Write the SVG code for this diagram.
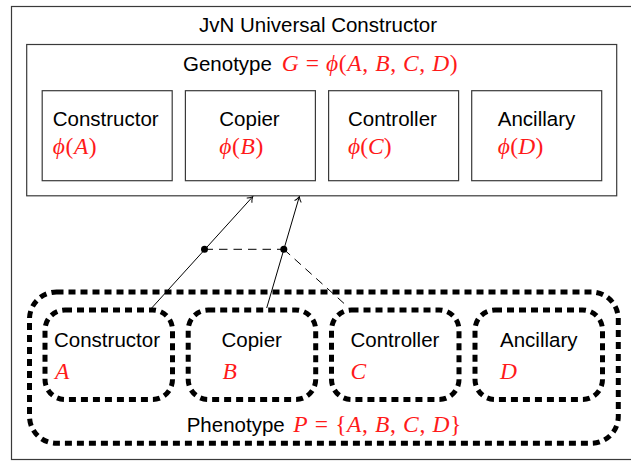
<svg xmlns="http://www.w3.org/2000/svg" width="631" height="461" viewBox="0 0 631 461">
  <style>
    .box { fill: none; stroke: #3a3a3a; stroke-width: 1.2; }
    .dot-box { fill: none; stroke: #000; stroke-width: 5; stroke-dasharray: 7 5; }
    .lbl { font-family: "Liberation Sans", Arial, sans-serif; font-size: 20.5px; fill: #000; }
    .math { font-family: "Liberation Serif", "DejaVu Serif", serif; font-size: 23.5px; fill: #ff1a1a; }
    .it { font-style: italic; }
    .conn { fill: none; stroke: #000; stroke-width: 1; }
    .dash { stroke-dasharray: 8.5 6; }
  </style>
  <defs>
    <marker id="arrow" markerUnits="userSpaceOnUse" markerWidth="12" markerHeight="12" viewBox="-8 -6 10 12" refX="0" refY="0" orient="auto">
      <path d="M-5,-3.5 C-3.5,-1.5 -1,-0.5 0,0 C-1,0.5 -3.5,1.5 -5,3.5" fill="none" stroke="#000" stroke-width="1"/>
    </marker>
  </defs>
  <rect width="631" height="461" fill="#fff"/>

  <g id="universal-constructor">
    <rect class="box" x="11.5" y="6.5" width="640" height="453"/>
    <text class="lbl" x="199" y="32">JvN Universal Constructor</text>
  </g>

  <g id="genotype">
    <rect class="box" x="26.7" y="44.5" width="590" height="151.3"/>
    <text class="lbl" x="183" y="71">Genotype</text>
    <text class="math" x="281.7" y="71" textLength="176" lengthAdjust="spacing"><tspan class="it">G</tspan> = <tspan class="it">ϕ</tspan>(<tspan class="it">A</tspan>, <tspan class="it">B</tspan>, <tspan class="it">C</tspan>, <tspan class="it">D</tspan>)</text>
  </g>

  <g id="g-constructor">
    <rect class="box" x="42.2" y="90.7" width="130" height="90"/>
    <text class="lbl" x="52.7" y="126">Constructor</text>
    <text class="math" x="52.7" y="154" textLength="44" lengthAdjust="spacing"><tspan class="it">ϕ</tspan>(<tspan class="it">A</tspan>)</text>
  </g>
  <g id="g-copier">
    <rect class="box" x="185.4" y="90.7" width="130" height="90"/>
    <text class="lbl" x="219.3" y="126">Copier</text>
    <text class="math" x="219.3" y="154" textLength="44" lengthAdjust="spacing"><tspan class="it">ϕ</tspan>(<tspan class="it">B</tspan>)</text>
  </g>
  <g id="g-controller">
    <rect class="box" x="328.6" y="90.7" width="130" height="90"/>
    <text class="lbl" x="348" y="126">Controller</text>
    <text class="math" x="348" y="154" textLength="43.5" lengthAdjust="spacing"><tspan class="it">ϕ</tspan>(<tspan class="it">C</tspan>)</text>
  </g>
  <g id="g-ancillary">
    <rect class="box" x="471.7" y="90.7" width="130" height="90"/>
    <text class="lbl" x="497.8" y="126">Ancillary</text>
    <text class="math" x="497.8" y="154" textLength="45.5" lengthAdjust="spacing"><tspan class="it">ϕ</tspan>(<tspan class="it">D</tspan>)</text>
  </g>

  <g id="phenotype">
    <rect class="dot-box" x="29.5" y="292" width="588.8" height="151.3" rx="27" ry="27"/>
    <text class="lbl" x="186.7" y="431.7">Phenotype</text>
    <text class="math" x="293.3" y="431.7" textLength="168" lengthAdjust="spacing"><tspan class="it">P</tspan> = {<tspan class="it">A</tspan>, <tspan class="it">B</tspan>, <tspan class="it">C</tspan>, <tspan class="it">D</tspan>}</text>
  </g>

  <g id="p-constructor">
    <rect class="dot-box" x="45" y="310" width="127.5" height="89.5" rx="20" ry="20"/>
    <text class="lbl" x="54" y="347">Constructor</text>
    <text class="math it" x="55" y="378.5">A</text>
  </g>
  <g id="p-copier">
    <rect class="dot-box" x="188.2" y="310" width="127.5" height="89.5" rx="20" ry="20"/>
    <text class="lbl" x="221.5" y="347">Copier</text>
    <text class="math it" x="222.5" y="378.5">B</text>
  </g>
  <g id="p-controller">
    <rect class="dot-box" x="331.5" y="310" width="127.5" height="89.5" rx="20" ry="20"/>
    <text class="lbl" x="350.5" y="347">Controller</text>
    <text class="math it" x="350.5" y="378.5">C</text>
  </g>
  <g id="p-ancillary">
    <rect class="dot-box" x="475" y="310" width="127.5" height="89.5" rx="20" ry="20"/>
    <text class="lbl" x="500" y="347">Ancillary</text>
    <text class="math it" x="500" y="378.5">D</text>
  </g>

  <g id="connectors">
    <line class="conn" x1="151.7" y1="308" x2="252.7" y2="196.7" marker-end="url(#arrow)"/>
    <line class="conn" x1="266.7" y1="308" x2="299.3" y2="196.7" marker-end="url(#arrow)"/>
    <line class="conn dash" x1="204.5" y1="249.3" x2="283.8" y2="249.3"/>
    <line class="conn dash" x1="283.8" y1="249.3" x2="348" y2="307"/>
    <circle cx="204.5" cy="249.3" r="3.5" fill="#000"/>
    <circle cx="283.8" cy="249.3" r="3.5" fill="#000"/>
  </g>
</svg>
